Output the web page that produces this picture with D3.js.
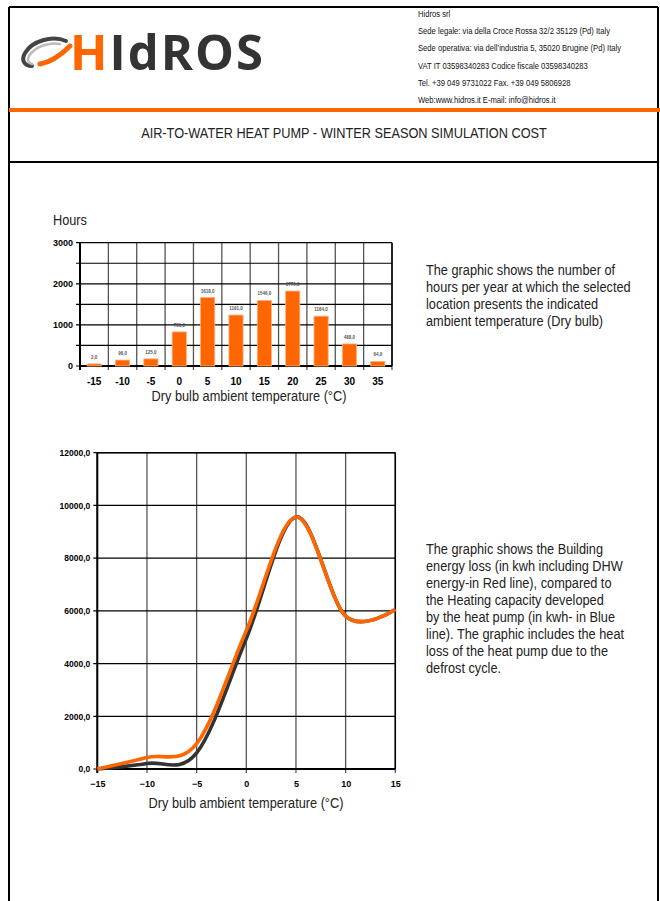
<!DOCTYPE html>
<html>
<head>
<meta charset="utf-8">
<script src="https://cdn.jsdelivr.net/npm/d3@7/dist/d3.min.js"></script>
<style>
html,body{margin:0;padding:0;background:#fff;}
svg{display:block;}
</style>
</head>
<body>
<script>
// ---------- DATA ----------
const headerLines = [
  "Hidros srl",
  "Sede legale: via della Croce Rossa 32/2 35129 (Pd) Italy",
  "Sede operativa: via dell’industria 5, 35020 Brugine (Pd) Italy",
  "VAT IT 03598340283  Codice fiscale 03598340283",
  "Tel. +39 049 9731022 Fax. +39 049 5806928",
  "Web:www.hidros.it E-mail: info@hidros.it"
];
const pageTitle = "AIR-TO-WATER HEAT PUMP - WINTER SEASON SIMULATION COST";

const barTemps = [-15, -10, -5, 0, 5, 10, 15, 20, 25, 30, 35];
const barHours = [2, 96, 125, 781, 1618, 1191, 1546, 1775, 1164, 488, 64];
const barYTicks = [0, 1000, 2000, 3000];
const barYGrid = [0, 500, 1000, 1500, 2000, 2500, 3000];

const lineTemps = [-15, -10, -5, 0, 5, 10, 15];
const heatCapacity = [0, 210, 610, 4950, 9560, 5800, 6050];   // dark line
const buildingLoss = [0, 440, 960, 5250, 9560, 5800, 6050];   // orange line
const lineYTicks = [0, 2000, 4000, 6000, 8000, 10000, 12000];
const lineXTicks = [-15, -10, -5, 0, 5, 10, 15];

const text1 = [
  "The graphic shows the number of",
  "hours per year at which the selected",
  "location presents the indicated",
  "ambient temperature (Dry bulb)"
];
const text2 = [
  "The graphic shows the Building",
  "energy loss (in kwh including DHW",
  "energy-in Red line), compared to",
  "the Heating capacity developed",
  "by the heat pump (in kwh- in Blue",
  "line). The graphic includes the heat",
  "loss of the heat pump due to the",
  "defrost cycle."
];
const xTitle = "Dry bulb ambient temperature (°C)";

// ---------- DRAW ----------
const W = 660, H = 901;
const ORANGE = "#ff6600";
const svg = d3.select("body").append("svg").attr("width", W).attr("height", H);
const sans = "'Liberation Sans',Arial,Helvetica,sans-serif";
const NARROW = 0.85;

function ntext(parent, x, y, size, str, anchor) {
  return parent.append("text")
    .attr("transform", `translate(${x},${y}) scale(${NARROW},1)`)
    .attr("text-anchor", anchor || "start")
    .attr("font-family", sans).attr("font-size", size).attr("fill", "#222")
    .text(str);
}

// page frame
svg.append("line").attr("x1", 9).attr("x2", 9).attr("y1", 7).attr("y2", H).attr("stroke", "#000").attr("stroke-width", 2);
svg.append("line").attr("x1", 658).attr("x2", 658).attr("y1", 7).attr("y2", H).attr("stroke", "#000").attr("stroke-width", 2);
svg.append("line").attr("x1", 9).attr("x2", 658).attr("y1", 7).attr("y2", 7).attr("stroke", "#000").attr("stroke-width", 2);
svg.append("line").attr("x1", 9).attr("x2", 660).attr("y1", 110).attr("y2", 110).attr("stroke", ORANGE).attr("stroke-width", 4);
svg.append("line").attr("x1", 9).attr("x2", 658).attr("y1", 162).attr("y2", 162).attr("stroke", "#000").attr("stroke-width", 2);

// logo
const logo = svg.append("g");
logo.append("path")
  .attr("d", "M66,41 C52,35 32,41 25,53 C21,60 24,66 32,66")
  .attr("fill", "none").attr("stroke", "#444").attr("stroke-width", 4).attr("stroke-linecap", "round");
logo.append("path")
  .attr("d", "M60,44 C46,42 34,48 29,56 C27,60 28,63 32,64")
  .attr("fill", "none").attr("stroke", "#bbb").attr("stroke-width", 2.5).attr("stroke-linecap", "round");
logo.append("path")
  .attr("d", "M40,64 C52,62 61,55 70,46")
  .attr("fill", "none").attr("stroke", ORANGE).attr("stroke-width", 5).attr("stroke-linecap", "round");
const logoText = logo.append("text").attr("x", 70).attr("y", 70)
  .attr("font-family", "'Open Sans','Noto Sans',sans-serif").attr("font-weight", 700)
  .attr("font-size", 49).attr("letter-spacing", 2);
logoText.append("tspan").attr("fill", ORANGE).text("H");
logoText.append("tspan").attr("fill", "#333").text("IdROS");

// header address
const hg = svg.append("g");
headerLines.forEach((d, i) => ntext(hg, 418, 17 + i * 17.2, 9, d).attr("fill", "#111"));

// title
ntext(svg, 344, 138, 15, pageTitle, "middle");

// ---------- BAR CHART ----------
const b = {l: 80, r: 392, t: 242.7, btm: 366};
const bx = d3.scaleBand().domain(barTemps).range([b.l, b.r]).paddingInner(0.5).paddingOuter(0.25);
const by = d3.scaleLinear().domain([0, 3000]).range([b.btm, b.t]);
const bg = svg.append("g");
const bandEdges = barTemps.map(t => bx(t) - bx.step() * 0.25).concat([b.r]);
bg.selectAll(".vg").data(bandEdges).join("line")
  .attr("x1", d => d).attr("x2", d => d).attr("y1", b.t).attr("y2", b.btm + 4)
  .attr("stroke", "#555").attr("stroke-width", 1.3);
bg.selectAll(".hg").data(barYGrid).join("line")
  .attr("x1", b.l - 4).attr("x2", b.r).attr("y1", d => by(d)).attr("y2", d => by(d))
  .attr("stroke", "#000").attr("stroke-width", 1.2);
bg.append("line").attr("x1", b.l).attr("x2", b.l).attr("y1", b.t).attr("y2", b.btm + 4).attr("stroke", "#000").attr("stroke-width", 2);
bg.append("line").attr("x1", b.l).attr("x2", b.r).attr("y1", b.btm).attr("y2", b.btm).attr("stroke", "#000").attr("stroke-width", 2);
bg.append("line").attr("x1", b.r).attr("x2", b.r).attr("y1", b.t).attr("y2", b.btm).attr("stroke", "#000").attr("stroke-width", 1.5);
bg.selectAll(".bar").data(barTemps).join("rect")
  .attr("x", d => bx(d)).attr("width", bx.bandwidth())
  .attr("y", (d, i) => by(barHours[i]) - 2).attr("height", (d, i) => b.btm - by(barHours[i]) + 2)
  .attr("fill", ORANGE).attr("stroke", "#ffb080").attr("stroke-width", 0.8);
bg.selectAll(".vl").data(barTemps).join("text")
  .attr("x", d => bx(d) + bx.bandwidth() / 2).attr("y", (d, i) => by(barHours[i]) - 7)
  .attr("text-anchor", "middle").attr("font-family", sans).attr("font-size", 4.5)
  .attr("font-weight", "bold").attr("fill", "#555")
  .text((d, i) => d3.format(".1f")(barHours[i]).replace(".", ","));
const byAxis = d3.axisLeft(by).tickValues(barYTicks).tickSize(0).tickPadding(7).tickFormat(d3.format("d"));
const byg = bg.append("g").attr("transform", `translate(${b.l},0)`).call(byAxis);
byg.select(".domain").remove();
byg.selectAll("text").attr("font-family", sans).attr("font-size", 9).attr("font-weight", "bold").attr("fill", "#000");
const bxAxis = d3.axisBottom(bx).tickSize(0).tickPadding(12);
const bxg = bg.append("g").attr("transform", `translate(0,${b.btm})`).call(bxAxis);
bxg.select(".domain").remove();
bxg.selectAll("text").attr("font-family", sans).attr("font-size", 10).attr("font-weight", "bold").attr("fill", "#000");
ntext(svg, 53, 225, 15, "Hours");
ntext(svg, 249, 401, 15, xTitle, "middle");

// ---------- LINE CHART ----------
const L = {l: 97.3, r: 395.3, t: 452.7, btm: 769};
const lx = d3.scaleLinear().domain([-15, 15]).range([L.l, L.r]);
const ly = d3.scaleLinear().domain([0, 12000]).range([L.btm, L.t]);
const lg = svg.append("g");
lg.selectAll(".vg").data(lineXTicks).join("line")
  .attr("x1", d => lx(d)).attr("x2", d => lx(d)).attr("y1", L.t).attr("y2", L.btm + 4)
  .attr("stroke", "#555").attr("stroke-width", 1.3);
lg.selectAll(".hg").data(lineYTicks).join("line")
  .attr("x1", L.l - 4).attr("x2", L.r).attr("y1", d => ly(d)).attr("y2", d => ly(d))
  .attr("stroke", "#000").attr("stroke-width", 1.2);
lg.append("line").attr("x1", L.l).attr("x2", L.l).attr("y1", L.t).attr("y2", L.btm + 4).attr("stroke", "#000").attr("stroke-width", 2);
lg.append("line").attr("x1", L.l).attr("x2", L.r).attr("y1", L.btm).attr("y2", L.btm).attr("stroke", "#000").attr("stroke-width", 2);
lg.append("line").attr("x1", L.r).attr("x2", L.r).attr("y1", L.t).attr("y2", L.btm).attr("stroke", "#000").attr("stroke-width", 1.5);
lg.append("line").attr("x1", L.l).attr("x2", L.r).attr("y1", L.t).attr("y2", L.t).attr("stroke", "#000").attr("stroke-width", 1.5);

const lineGen = arr => d3.line().x((d, i) => lx(lineTemps[i])).y(d => ly(d)).curve(d3.curveCardinal.tension(0))(arr);
lg.append("path").attr("d", lineGen(heatCapacity)).attr("fill", "none").attr("stroke", "#333").attr("stroke-width", 3.6);
lg.append("path").attr("d", lineGen(buildingLoss)).attr("fill", "none").attr("stroke", ORANGE).attr("stroke-width", 3.6);

const lyAxis = d3.axisLeft(ly).tickValues(lineYTicks).tickSize(0).tickPadding(7)
  .tickFormat(d => d3.format(".1f")(d).replace(".", ","));
const lyg = lg.append("g").attr("transform", `translate(${L.l},0)`).call(lyAxis);
lyg.select(".domain").remove();
lyg.selectAll("text").attr("font-family", sans).attr("font-size", 8.5).attr("font-weight", "bold").attr("fill", "#000");
const lxAxis = d3.axisBottom(lx).tickValues(lineXTicks).tickSize(0).tickPadding(12).tickFormat(d3.format("d"));
const lxg = lg.append("g").attr("transform", `translate(0,${L.btm})`).call(lxAxis);
lxg.select(".domain").remove();
lxg.selectAll("text").attr("font-family", sans).attr("font-size", 9).attr("font-weight", "bold").attr("fill", "#000");
ntext(svg, 246, 808, 15, xTitle, "middle");

// ---------- SIDE TEXTS ----------
const t1 = svg.append("g");
text1.forEach((d, i) => ntext(t1, 426, 275 + i * 17, 15, d));
const t2 = svg.append("g");
text2.forEach((d, i) => ntext(t2, 426, 554 + i * 17, 15, d));
</script>
</body>
</html>
